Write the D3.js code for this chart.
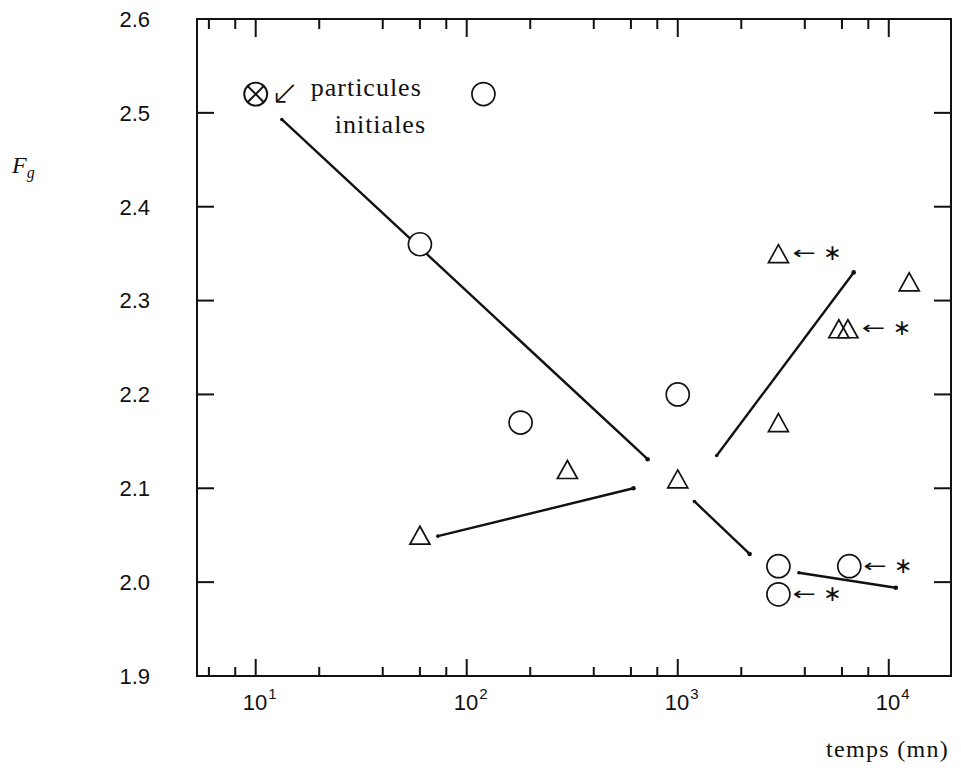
<!DOCTYPE html>
<html>
<head>
<meta charset="utf-8">
<script src="https://cdn.jsdelivr.net/npm/d3@7"></script>
<style>
  body { margin: 0; background: #fff; }
  svg { display: block; }
</style>
</head>
<body>
<svg id="chart" width="961" height="778"></svg>
<script>
// Fractal dimension F_g of aggregates versus time (minutes)

// Initial particles (crossed circle)
const initialTime = [10];
const initialFg = [2.52];

// Open circles
const circleTime = [120, 60, 180, 1000, 3000, 3000, 6500];
const circleFg = [2.52, 2.36, 2.17, 2.20, 2.017, 1.987, 2.017];

// Open triangles
const triangleTime = [60, 300, 1000, 3000, 3000, 5800, 6400, 12500];
const triangleFg = [2.05, 2.12, 2.11, 2.35, 2.17, 2.27, 2.27, 2.32];

// Evolution segments (start -> end)
const segStartTime = [13.3, 73, 1200, 1530, 3750];
const segStartFg = [2.493, 2.049, 2.086, 2.135, 2.010];
const segEndTime = [720, 617, 2190, 6820, 10800];
const segEndFg = [2.131, 2.100, 2.030, 2.330, 1.994];

// Points flagged with an asterisk
const starTime = [3000, 6400, 6500, 3000];
const starFg = [2.35, 2.27, 2.017, 1.987];

// Axis ticks
const yTicks = [1.9, 2.0, 2.1, 2.2, 2.3, 2.4, 2.5, 2.6];
const xMajorTicks = [10, 100, 1000, 10000];
const xMajorExp = ["1", "2", "3", "4"];
const xMinorTicks = [6, 8, 20, 40, 60, 80, 200, 400, 600, 800, 2000, 4000, 6000, 8000];

const svg = d3.select("#chart");

const frameL = 197, frameR = 951, frameT = 19, frameB = 676;

const x = d3.scaleLog().domain([5.27, 19720]).range([frameL, frameR]);
const y = d3.scaleLinear().domain([1.9, 2.6]).range([frameB, frameT]);

const ink = "#111";

// Frame
svg.append("rect")
  .attr("x", frameL).attr("y", frameT)
  .attr("width", frameR - frameL).attr("height", frameB - frameT)
  .attr("fill", "none").attr("stroke", ink).attr("stroke-width", 2);

// X ticks (bottom and top, pointing inward)
const majorLen = 17, minorLen = 9;
const xt = svg.append("g").attr("stroke", ink).attr("stroke-width", 2);
xMajorTicks.forEach(v => {
  xt.append("line").attr("x1", x(v)).attr("x2", x(v)).attr("y1", frameB).attr("y2", frameB - majorLen);
  xt.append("line").attr("x1", x(v)).attr("x2", x(v)).attr("y1", frameT).attr("y2", frameT + majorLen + 1);
});
xMinorTicks.forEach(v => {
  xt.append("line").attr("x1", x(v)).attr("x2", x(v)).attr("y1", frameB).attr("y2", frameB - minorLen);
  xt.append("line").attr("x1", x(v)).attr("x2", x(v)).attr("y1", frameT).attr("y2", frameT + minorLen + 1);
});

// Y ticks (left and right, pointing inward)
const yt = svg.append("g").attr("stroke", ink).attr("stroke-width", 2);
yTicks.slice(1, -1).forEach(v => {
  yt.append("line").attr("x1", frameL).attr("x2", frameL + majorLen).attr("y1", y(v)).attr("y2", y(v));
  yt.append("line").attr("x1", frameR).attr("x2", frameR - majorLen).attr("y1", y(v)).attr("y2", y(v));
});

// Y tick labels
svg.append("g")
  .selectAll("text").data(yTicks).join("text")
  .attr("x", 150).attr("y", d => y(d))
  .attr("dy", "0.36em")
  .attr("text-anchor", "end")
  .attr("font-family", "'Liberation Sans', Arial, sans-serif")
  .attr("font-size", 22)
  .attr("fill", ink)
  .text(d => d.toFixed(1));

// X tick labels: 10^n
const xl = svg.append("g")
  .attr("font-family", "'Liberation Sans', Arial, sans-serif")
  .attr("fill", ink);
xMajorTicks.forEach((v, i) => {
  const t = xl.append("text")
    .attr("x", x(v) + 4).attr("y", 710)
    .attr("text-anchor", "middle")
    .attr("font-size", 22);
  t.append("tspan").text("10");
  t.append("tspan").attr("font-size", 15).attr("dy", -11).attr("dx", 1).text(xMajorExp[i]);
});

// Axis titles
svg.append("text")
  .attr("x", 949).attr("y", 757)
  .attr("text-anchor", "end")
  .attr("font-family", "'Liberation Serif', 'DejaVu Serif', serif")
  .attr("font-size", 24)
  .attr("letter-spacing", 1.3)
  .attr("fill", ink)
  .text("temps (mn)");

const fg = svg.append("text")
  .attr("x", 12).attr("y", 173)
  .attr("font-family", "'Liberation Serif', 'DejaVu Serif', serif")
  .attr("font-style", "italic")
  .attr("font-size", 24)
  .attr("fill", ink);
fg.append("tspan").text("F");
fg.append("tspan").attr("font-size", 16).attr("dy", 5).text("g");

// Evolution segments with small end points
const segs = segStartTime.map((t, i) => ({
  x1: x(t), y1: y(segStartFg[i]), x2: x(segEndTime[i]), y2: y(segEndFg[i])
}));
const sg = svg.append("g");
sg.selectAll("line").data(segs).join("line")
  .attr("x1", d => d.x1).attr("y1", d => d.y1)
  .attr("x2", d => d.x2).attr("y2", d => d.y2)
  .attr("stroke", ink).attr("stroke-width", 2.4);
sg.selectAll("circle.end").data(segs).join("circle")
  .attr("class", "end")
  .attr("cx", d => d.x2).attr("cy", d => d.y2).attr("r", 2.3)
  .attr("fill", ink);
sg.selectAll("circle.start").data(segs).join("circle")
  .attr("class", "start")
  .attr("cx", d => d.x1).attr("cy", d => d.y1).attr("r", 1.8)
  .attr("fill", ink);

// Circles
const r = 11.5;
svg.append("g").selectAll("circle")
  .data(circleTime.map((t, i) => [t, circleFg[i]]))
  .join("circle")
  .attr("cx", d => x(d[0])).attr("cy", d => y(d[1])).attr("r", r)
  .attr("fill", "#fff").attr("stroke", ink).attr("stroke-width", 1.7);

// Triangles
const tw = 10, th = 9;
svg.append("g").selectAll("path")
  .data(triangleTime.map((t, i) => [t, triangleFg[i]]))
  .join("path")
  .attr("d", d => {
    const cx = x(d[0]), cy = y(d[1]);
    return `M${cx},${cy - th} L${cx + tw},${cy + th} L${cx - tw},${cy + th} Z`;
  })
  .attr("fill", "none").attr("stroke", ink).attr("stroke-width", 1.7)
  .attr("stroke-linejoin", "miter");

// Initial particles: crossed circle
const ig = svg.append("g");
initialTime.forEach((t, i) => {
  const cx = x(t), cy = y(initialFg[i]);
  const k = r * Math.SQRT1_2;
  ig.append("circle").attr("cx", cx).attr("cy", cy).attr("r", r)
    .attr("fill", "#fff").attr("stroke", ink).attr("stroke-width", 1.9);
  ig.append("line").attr("x1", cx - k).attr("y1", cy - k).attr("x2", cx + k).attr("y2", cy + k)
    .attr("stroke", ink).attr("stroke-width", 1.9);
  ig.append("line").attr("x1", cx - k).attr("y1", cy + k).attr("x2", cx + k).attr("y2", cy - k)
    .attr("stroke", ink).attr("stroke-width", 1.9);

  // pointer arrow and caption
  ig.append("text")
    .attr("x", cx + 15).attr("y", cy + 10)
    .attr("font-family", "'DejaVu Sans', sans-serif")
    .attr("font-weight", 300)
    .attr("font-size", 34)
    .attr("fill", ink)
    .text("↙");
  const cap = ig.append("text")
    .attr("font-family", "'Liberation Serif', 'DejaVu Serif', serif")
    .attr("font-size", 26)
    .attr("letter-spacing", 1)
    .attr("fill", ink);
  cap.append("tspan").attr("x", cx + 55).attr("y", cy + 2).text("particules");
  cap.append("tspan").attr("x", cx + 79).attr("y", cy + 39).text("initiales");
});

// Asterisk flags: "← *"
const st = svg.append("g")
  .attr("font-family", "'DejaVu Sans', sans-serif")
  .attr("fill", ink);
starTime.forEach((t, i) => {
  const cx = x(t), cy = y(starFg[i]);
  const ax = cx + 14;
  st.append("text")
    .attr("x", ax).attr("y", cy).attr("dy", "0.3em")
    .attr("font-size", 18)
    .attr("transform", `translate(${ax},0) scale(1.55,1) translate(${-ax},0)`)
    .text("←");
  st.append("text")
    .attr("x", cx + 54).attr("y", cy).attr("dy", "0.3em")
    .attr("text-anchor", "middle")
    .attr("font-size", 22)
    .text("∗");
});
</script>
</body>
</html>
